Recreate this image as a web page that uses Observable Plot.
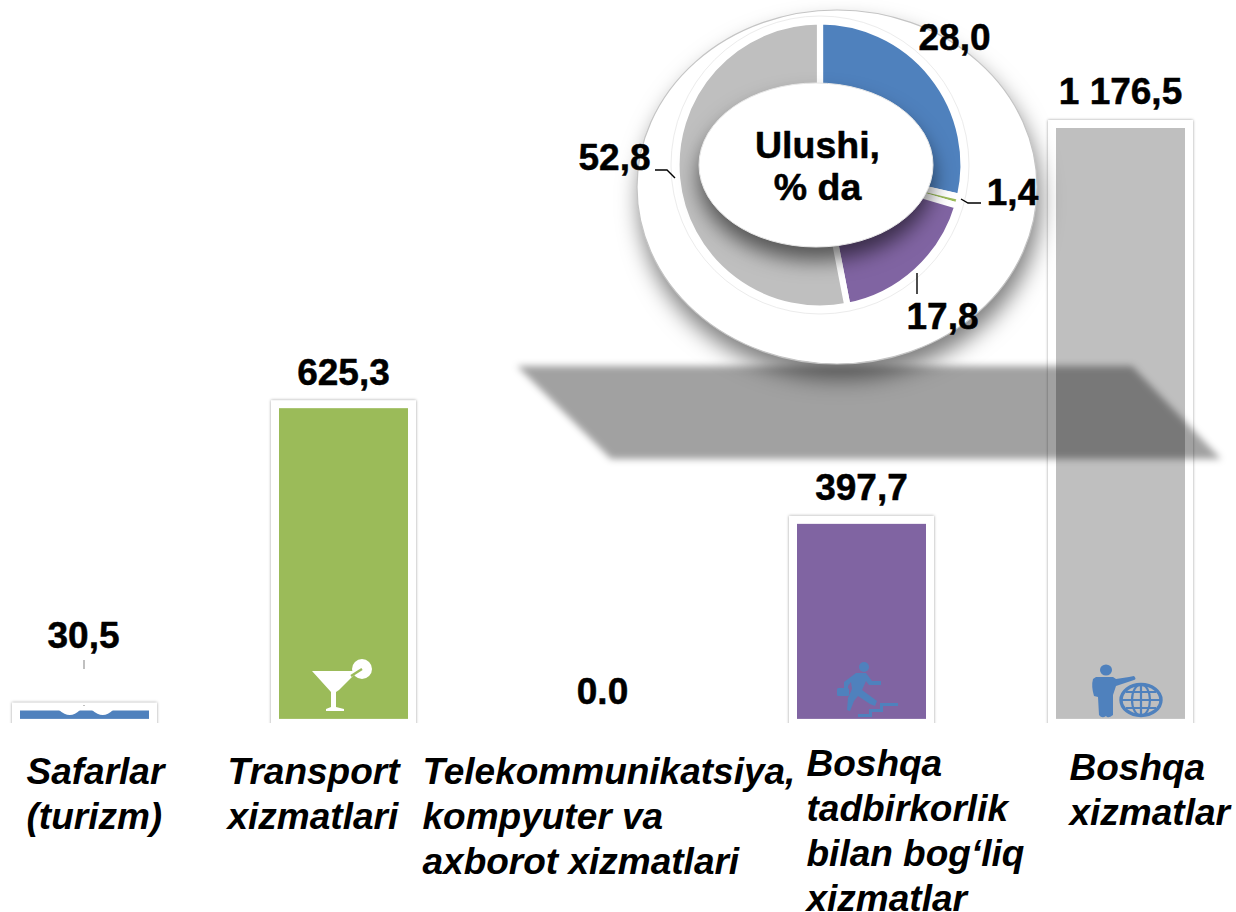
<!DOCTYPE html>
<html><head><meta charset="utf-8">
<script src="https://cdn.jsdelivr.net/npm/d3@7"></script>
<script src="https://cdn.jsdelivr.net/npm/@observablehq/plot@0.6"></script>
<style>html,body{margin:0;padding:0;background:#fff}svg{display:block}</style>
</head><body><div id="chart"></div>
<script>
const categories = ["Safarlar","Transport","Telekom","Tadbirkorlik","Boshqa"];
const values = [30.5, 625.3, 0, 397.7, 1176.5];
const valueLabels = ["30,5","625,3","0.0","397,7","1 176,5"];
const categoryLabels = ["Safarlar\n(turizm)","Transport\nxizmatlari","Telekommunikatsiya,\nkompyuter va\naxborot xizmatlari","Boshqa\ntadbirkorlik\nbilan bog‘liq\nxizmatlar","Boshqa\nxizmatlar"];
const shareCategories = ["Safarlar","Transport","Tadbirkorlik","Boshqa"];
const shares = [28.0, 1.4, 17.8, 52.8];
const shareLabels = ["28,0","1,4","17,8","52,8"];
const colors = ["#4f81bd","#9bbb59","#4f81bd","#8064a2","#bfbfbf"];

const FONT = "'Liberation Sans', Arial, sans-serif";
const bars = categories.map((c,i)=>({c,v:values[i],label:valueLabels[i],cat:categoryLabels[i]}));
const drawn = bars.filter(d=>d.v>0);
const slices = shareCategories.map((c,i)=>({c,share:shares[i],label:shareLabels[i]}));

const svgEl = (name,attrs)=>{const e=document.createElementNS("http://www.w3.org/2000/svg",name);for(const k in attrs)e.setAttribute(k,attrs[k]);return e;};

// cuts the bar frames at the foot of the picture area
const footMask = ()=>svgEl("rect",{x:0,y:723,width:1236,height:189,fill:"#fff"});

// soft shadow band behind the doughnut
const band = ()=>svgEl("path",{d:"M517 366H1132L1221 459H611Z",fill:"#000","fill-opacity":0.37,style:"filter:blur(3.5px)"});

// outer plate
const plate = ()=>{const g=svgEl("g",{});
  g.append(svgEl("ellipse",{cx:837,cy:187,rx:200,ry:177,fill:"#fff",stroke:"#c4c4c4","stroke-width":1.2,style:"filter:drop-shadow(3px 14px 11px rgba(0,0,0,.5))"}));
  g.append(svgEl("circle",{cx:820,cy:165,r:149,fill:"#fff",stroke:"#ececec","stroke-width":1}));
  return g;};

// doughnut slices, drawn from shares
const arcs = Plot.dot(slices,{x:"c",fill:"c",render(index,scales,vals){
  const g=svgEl("g",{transform:"translate(820,165)"});
  const pie=d3.pie().sort(null)(index.map(i=>slices[i].share));
  const arc=d3.arc().innerRadius(70).outerRadius(143.5);
  pie.forEach((p,k)=>{const i=index[k];
    g.append(svgEl("path",{d:arc(p),fill:scales.color(slices[i].c),stroke:"#fff","stroke-width":6.2,"stroke-linejoin":"miter"}));});
  return g;}});

const hub = ()=>svgEl("ellipse",{cx:816,cy:165,rx:117,ry:82,fill:"#fff",stroke:"#e6e6e6","stroke-width":1,style:"filter:drop-shadow(0 13px 10px rgba(0,0,0,.55))"});

const leaders = ()=>{const g=svgEl("g",{fill:"none",stroke:"#000","stroke-width":1.4});
  ["M655 170H667L675 178","M961 199L968 203H981","M917 273V294"].forEach(d=>g.append(svgEl("path",{d})));
  g.append(svgEl("path",{d:"M84 660V669M84 705V706",stroke:"#a6a6a6"}));
  return g;};

// pictograms on the bars
const icons = ()=>{const g=svgEl("g",{});
  // waves on blue bar
  g.append(svgEl("path",{d:"M59 710H80Q70 720 59 710ZM92 710H113Q103 720 92 710Z",fill:"#fff"}));
  // martini
  g.append(svgEl("path",{d:"M312 671H358L339 690L336 692V707L344 709V711H326V709L331 707V692Z",fill:"#fff"}));
  g.append(svgEl("circle",{cx:362,cy:669,r:10,fill:"#fff"}));
  g.append(svgEl("path",{d:"M351 676L362 669",stroke:"#9bbb59","stroke-width":2.4}));
  // runner
  const r=svgEl("g",{fill:"#4f81bd"});
  r.append(svgEl("circle",{cx:864,cy:667,r:5}));
  r.append(svgEl("path",{d:"M856 673L866 673L872 681L881 681V685L869 685L866 681L862 690L877 701L875 706L870 704L858 696L854 701L850 711L847 710L848 698L852 689L851 682L848 686V690H844V682Z"}));
  r.append(svgEl("rect",{x:837,y:688,width:12,height:8,rx:1.5}));
  r.append(svgEl("path",{d:"M858 714H869V709H880V703H898V706H883V712H872V717H858Z"}));
  g.append(r);
  // person and globe
  const p=svgEl("g",{fill:"#4f81bd"});
  p.append(svgEl("ellipse",{cx:1106,cy:670,rx:6,ry:5.5}));
  p.append(svgEl("path",{d:"M1096 677H1113L1116 679L1129 677L1134 676Q1137 679 1134 680L1116 686L1113 695V715Q1108 719 1106 716Q1102 719 1099 715L1098 697L1094 696Q1091 686 1093 679Z"}));
  g.append(p);
  const gl=svgEl("g",{fill:"none",stroke:"#4f81bd","stroke-width":2.2});
  gl.append(svgEl("ellipse",{cx:1141,cy:700,rx:20,ry:15.5,"stroke-width":3.4}));
  gl.append(svgEl("ellipse",{cx:1141,cy:700,rx:9,ry:15.5}));
  gl.append(svgEl("path",{d:"M1141 685V715M1122 700H1160M1126 692H1156M1126 708H1156"}));
  g.append(gl);
  return g;};

const valueFont = {fontFamily:FONT,fontWeight:"bold",fontSize:37,fill:"#000",stroke:"#000",strokeWidth:0.5};
const catDx = [26,227,422,806,1069];
const catDy = [751,751,751,743,747];
const donutPos = [[954,38],[1012,193],[942,317],[614,158]];

const catMarks = bars.map((d,i)=>Plot.text([d.cat],{text:t=>t,frameAnchor:"top-left",textAnchor:"start",lineAnchor:"top",dx:catDx[i],dy:catDy[i],lineHeight:1.223,fontFamily:FONT,fontWeight:"bold",fontStyle:"italic",fontSize:37,fill:"#000"}));
const donutLabelMarks = slices.map((d,i)=>Plot.text([d.label],{text:t=>t,frameAnchor:"top-left",textAnchor:"middle",lineAnchor:"middle",dx:donutPos[i][0],dy:donutPos[i][1],...valueFont}));

const chart = Plot.plot({
  width:1236,height:912,
  marginTop:0,marginRight:0,marginBottom:0,marginLeft:0,
  style:{background:"#fff",overflow:"hidden"},
  x:{type:"band",domain:categories,range:[-110.15,1316],padding:0.5,axis:null},
  y:{domain:[0,1176.5],range:[726,128],axis:null},
  color:{domain:categories,range:colors},
  marks:[
    // white frames with soft edges
    Plot.barY(drawn,{x:"c",y1:()=>0,y2:"v",fill:"#fff",insetLeft:-8,insetRight:-7,insetTop:-8,imageFilter:"drop-shadow(0 0 1.5px rgba(0,0,0,.38))"}),
    footMask,
    Plot.barY(drawn,{x:"c",y1:()=>14,y2:"v",fill:"c",insetRight:1}),
    band,
    plate,
    arcs,
    hub,
    icons,
    leaders,
    Plot.text(drawn.filter(d=>d.v>100),{x:"c",y:"v",text:"label",dy:-36,dx:-1,...valueFont}),
    Plot.text(drawn.filter(d=>d.v<=100),{x:"c",y:"v",text:"label",dy:-75,dx:-2,...valueFont}),
    Plot.text(bars.filter(d=>d.v===0),{x:"c",y:"v",text:"label",dy:-34,dx:-1,...valueFont}),
    ...donutLabelMarks,
    Plot.text(["Ulushi,\n% da"],{text:t=>t,frameAnchor:"top-left",textAnchor:"middle",lineAnchor:"middle",dx:817,dy:165,lineHeight:1.13,...valueFont,fontSize:37.5}),
    ...catMarks
  ]
});
document.getElementById("chart").append(chart);
</script></body></html>
